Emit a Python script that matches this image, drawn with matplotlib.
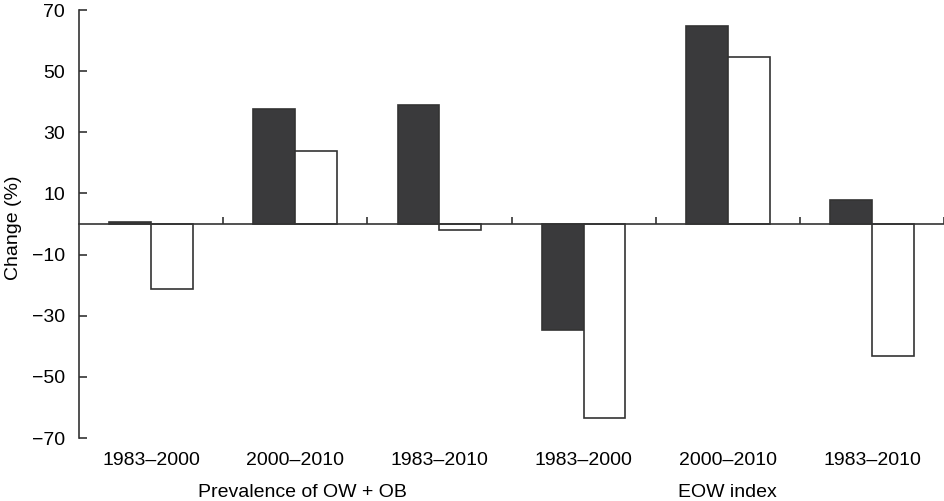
import matplotlib
matplotlib.use("Agg")
import matplotlib.pyplot as plt
import numpy as np

# periods along the x axis, two groups of three
periods = ["1983\u20132000", "2000\u20132010", "1983\u20132010",
           "1983\u20132000", "2000\u20132010", "1983\u20132010"]
group_names = ["Prevalence of OW + OB", "EOW index"]

# change (%) for the two series (dark bars, white bars)
dark_vals = [0.8, 37.7, 39.0, -34.8, 64.9, 7.7]
white_vals = [-21.2, 24.0, -2.1, -63.5, 54.6, -43.3]

plt.rcParams['font.family'] = ['Liberation Sans', 'DejaVu Sans']

fig = plt.figure(figsize=(9.45, 5.01), dpi=100)
ax = fig.add_axes([0.0836, 0.1257, 0.9154, 0.8543])

x = np.arange(len(periods))
w = 0.29
edge = "#333333"

ax.bar(x - w / 2, dark_vals, w, color="#3a3a3c", edgecolor=edge, linewidth=1.2, zorder=2)
ax.bar(x + w / 2, white_vals, w, color="white", edgecolor=edge, linewidth=1.2, zorder=2)

ax.set_xlim(-0.5, 5.5)
ax.set_ylim(-70, 70)
ax.set_yticks(np.arange(-70, 71, 20))
ax.set_yticklabels([str(v).replace("-", "\u2212") for v in range(-70, 71, 20)], fontsize=14)

# x axis drawn through zero, ticks at group boundaries
ax.spines['bottom'].set_position(('data', 0))
ax.spines['bottom'].set_color(edge)
ax.spines['bottom'].set_linewidth(1.2)
ax.spines['bottom'].set_zorder(3)
ax.spines['left'].set_color(edge)
ax.spines['left'].set_linewidth(1.2)
ax.spines['top'].set_visible(False)
ax.spines['right'].set_visible(False)

ax.set_xticks(np.arange(0.5, 6, 1))
ax.set_xticklabels([])
ax.tick_params(axis='x', direction='in', length=5, width=1.2, color=edge)
ax.tick_params(axis='y', direction='in', length=6, width=1.2, color=edge, pad=10)

for xi, lab in zip(x, periods):
    ax.text(xi, -74.5, lab, ha='center', va='top', fontsize=14)

ax.text(1.05, -85, group_names[0], ha='center', va='top', fontsize=14)
ax.text(4.0, -85, group_names[1], ha='center', va='top', fontsize=14)

fig.text(0.014, 0.545, "Change (%)", rotation=90, ha='center', va='center', fontsize=14)

fig.savefig("out.png", dpi=100)
